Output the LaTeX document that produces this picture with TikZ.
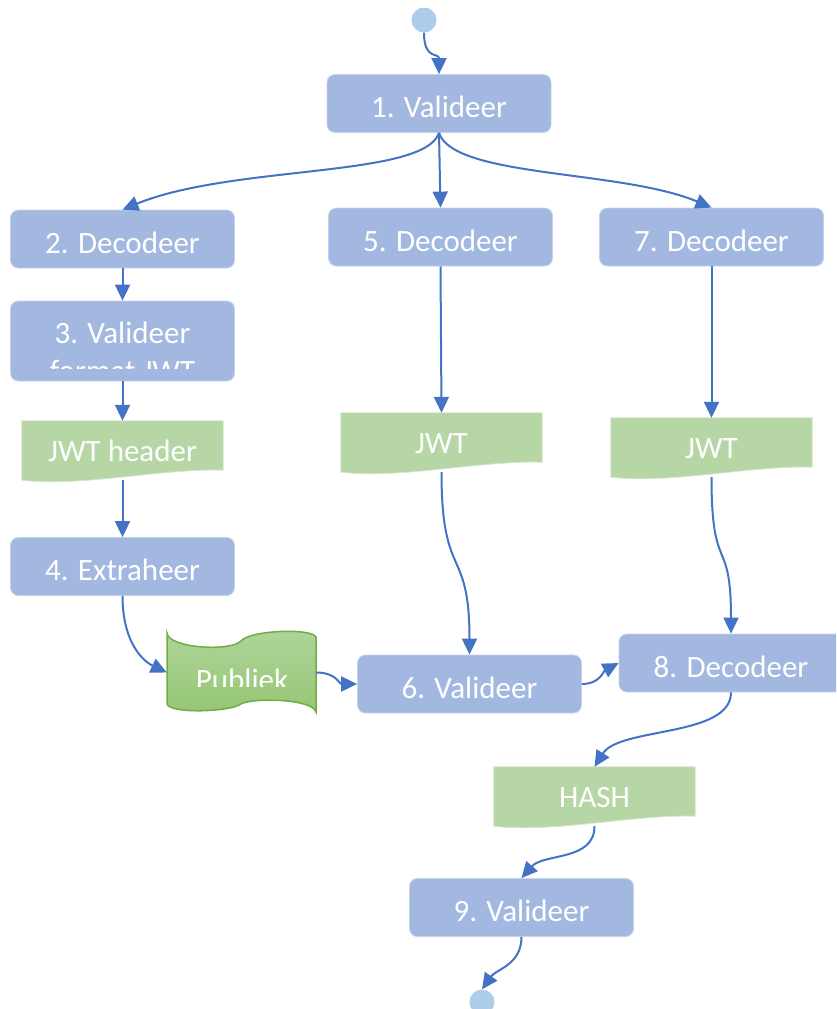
\documentclass[tikz,border=0pt]{standalone}
\usepackage{fontspec}
\setmainfont{Carlito}
\usetikzlibrary{arrows.meta,backgrounds}

\definecolor{boxblue}{HTML}{A3B8E1}
\definecolor{docgreen}{HTML}{B7D6A6}
\definecolor{linkblue}{HTML}{4472C4}
\definecolor{dotblue}{HTML}{AECDEB}
\definecolor{tapetop}{HTML}{AFD49B}
\definecolor{tapebot}{HTML}{95C674}
\definecolor{tapeedge}{HTML}{70AD47}

\tikzset{
  stepbox/.style={rectangle, rounded corners=8pt, fill=boxblue, draw=boxblue!65!white,
    line width=0.8pt, minimum width=224pt, minimum height=58pt, inner sep=0pt,
    text=white, font=\fontsize{31}{38}\selectfont, text height=28pt, text depth=0pt},
  docbox/.style={rectangle, minimum width=201pt, minimum height=59pt, inner sep=0pt,
    text=white, font=\fontsize{31}{38}\selectfont, text height=21pt, text depth=0pt},
  docshape/.style={fill=docgreen, draw=docgreen!55!white, line width=0.8pt},
  lbl/.style={text=white, font=\fontsize{31}{38}\selectfont, inner sep=0pt, anchor=base},
  conn/.style={draw=linkblue, line width=2pt, -{Triangle[length=16pt,width=15pt]}},
  dot/.style={circle, fill=dotblue, minimum size=25pt, inner sep=0pt},
}

% document symbol with a wavy lower edge, drawn behind the node #1
\newcommand\drawdoc[1]{%
  \begin{scope}[on background layer]
    \path[docshape] (#1.north west) -- (#1.north east) -- ([yshift=10pt]#1.south east)
      .. controls ([xshift=-60pt,yshift=12pt]#1.south east)
      and ([xshift=60pt,yshift=-7pt]#1.south west) .. (#1.south west) -- cycle;
  \end{scope}}

\begin{document}
\begin{tikzpicture}[x=1pt,y=-1pt]
\useasboundingbox (0,0) rectangle (836,1009);
\clip (0,0) rectangle (836,1009);

% start and end markers
\node[dot] (s) at (424,20) {};
\node[dot] (e) at (482,1002) {};

% process steps
\node[stepbox] (n1) at (439,103.5) {1. Valideer};
\node[stepbox] (n2) at (122.5,239) {2. Decodeer};
\node[stepbox] (n5) at (440.5,237) {5. Decodeer};
\node[stepbox] (n7) at (711.5,237) {7. Decodeer};
\node[stepbox, minimum height=80pt] (n3) at (122.5,341) {};
\begin{scope}
  \clip (11,301) rectangle (234,368);
  \node[lbl] (n3a) at (122.5,343) {3. Valideer};
  \node[lbl] (n3b) at (122.5,381) {format JWT};
\end{scope}
\node[stepbox] (n4) at (122.5,566.5) {4. Extraheer};
\node[stepbox] (n6) at (469.5,684) {6. Valideer};
\node[stepbox] (n8) at (731,663) {8. Decodeer};
\node[stepbox] (n9) at (521.5,907.5) {9. Valideer};

% data documents
\node[docbox] (jh) at (122.5,450.5) {JWT header};
\node[docbox] (jm) at (441.5,442.5) {JWT};
\node[docbox] (jr) at (711.5,447.5) {JWT};
\node[docbox] (hash) at (594.5,796.5) {HASH};
\drawdoc{jh}
\drawdoc{jm}
\drawdoc{jr}
\drawdoc{hash}

% punched tape holding the public key
\node[rectangle, minimum width=149pt, minimum height=80pt, inner sep=0pt] (pub) at (241.5,672.5) {};
\shade[top color=tapetop, bottom color=tapebot, draw=tapeedge, line width=1.5pt]
  (167,633) .. controls (168,648) and (230,652) .. (241,641)
  .. controls (250,630) and (312,628) .. (316,637) -- (316,712)
  .. controls (312,698) and (250,698) .. (241,704)
  .. controls (230,712) and (170,714) .. (167,704) -- cycle;
\begin{scope}
  \clip (167,620) rectangle (316,686);
  \node[lbl] (pubt) at (242,690) {Publiek};
\end{scope}

% connectors
\draw[conn] (s.south) .. controls +(0,28) and +(0,-22) .. (n1.north);
\draw[conn] (n1.south) .. controls +(-15,45) and +(110,-45) .. (n2.north);
\draw[conn] (n1.south) -- (n5.north);
\draw[conn] (n1.south) .. controls +(15,45) and +(-90,-38) .. (n7.north);
\draw[conn] (n2.south) -- (n3.north);
\draw[conn] (n3.south) -- (jh.north);
\draw[conn] (jh.south) -- (n4.north);
\draw[conn] (n4.south) .. controls +(0,45) and +(-25,-12) .. (pub.west);
\draw[conn] (pub.east) .. controls +(20,0) and +(-18,0) .. (n6.west);
\draw[conn] (n5.south) -- (jm.north);
\draw[conn] (jm.south) .. controls +(0,110) and +(0,-110) .. (n6.north);
\draw[conn] (n7.south) -- (jr.north);
\draw[conn] (jr.south) .. controls +(0,100) and +(0,-100) .. (n8.north);
\draw[conn] (n6.east) .. controls +(18,0) and +(-15,8) .. (n8.west);
\draw[conn] (n8.south) .. controls +(0,45) and +(25,-40) .. (hash.north);
\draw[conn] (hash.south) .. controls +(0,35) and +(22,-25) .. (n9.north);
\draw[conn] (n9.south) .. controls +(0,28) and +(14,-20) .. (e.north);
\end{tikzpicture}
\end{document}
